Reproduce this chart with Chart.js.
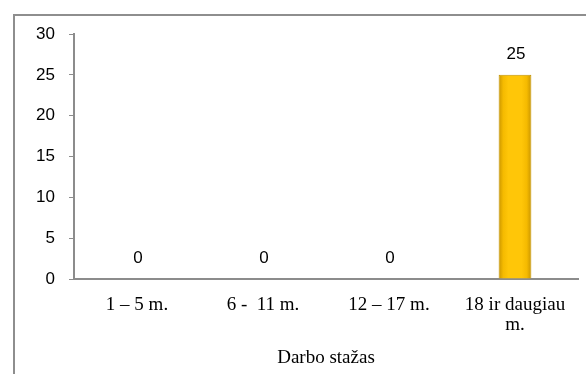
<!DOCTYPE html>
<html>
<head>
<meta charset="utf-8">
<script src="https://cdn.jsdelivr.net/npm/chart.js@4/dist/chart.umd.min.js"></script>
<style>
html,body{margin:0;padding:0;background:#fff;}
#wrap{position:relative;width:586px;height:374px;overflow:hidden;}
#frame{position:absolute;left:13px;top:14px;width:600px;height:400px;border:2px solid #8e8e8e;box-sizing:border-box;}
canvas{position:absolute;left:0;top:0;}
</style>
</head>
<body>
<div id="wrap">
<div id="frame"></div>
<canvas id="c" width="586" height="374"></canvas>
</div>
<script>
const categories = ["1 – 5 m.", "6 -  11 m.", "12 – 17 m.", ["18 ir daugiau", "m."]];
const values = [0, 0, 0, 25];
const yTicks = [0, 5, 10, 15, 20, 25, 30];
const axisTitle = "Darbo stažas";

const BAR_PCT = 0.26;

const valueLabels = {
  id: 'valueLabels',
  afterDatasetsDraw(chart) {
    const ctx = chart.ctx;
    const meta = chart.getDatasetMeta(0);
    ctx.save();
    ctx.font = '17px "Liberation Sans Narrow", "Liberation Sans", sans-serif';
    ctx.fillStyle = '#000';
    ctx.textAlign = 'center';
    ctx.textBaseline = 'alphabetic';
    meta.data.forEach((bar, i) => {
      const v = chart.data.datasets[0].data[i];
      ctx.fillText(String(v), bar.x + 1, bar.y - 16);
    });
    ctx.restore();
  }
};

function barFill(context) {
  const chart = context.chart;
  const xs = chart.scales && chart.scales.x;
  if (!chart.chartArea || !xs || context.dataIndex === undefined) return '#FFC000';
  const cx = xs.getPixelForValue(context.dataIndex);
  const w = (xs.width / categories.length) * BAR_PCT;
  const g = chart.ctx.createLinearGradient(cx - w / 2, 0, cx + w / 2, 0);
  g.addColorStop(0, '#C99500');
  g.addColorStop(0.14, '#F5BA00');
  g.addColorStop(0.3, '#FFC608');
  g.addColorStop(0.7, '#FFC608');
  g.addColorStop(0.86, '#F5BA00');
  g.addColorStop(1, '#C99500');
  return g;
}

const ctx = document.getElementById('c').getContext('2d');
new Chart(ctx, {
  type: 'bar',
  data: {
    labels: categories,
    datasets: [{
      data: values,
      backgroundColor: barFill,
      borderColor: '#C29200',
      borderWidth: 1,
      categoryPercentage: 1,
      barPercentage: BAR_PCT
    }]
  },
  options: {
    responsive: false,
    animation: false,
    devicePixelRatio: 1,
    layout: { padding: { left: 0, right: 8, top: 34, bottom: 0 } },
    plugins: { legend: { display: false }, tooltip: { enabled: false } },
    scales: {
      x: {
        grid: { display: false },
        border: { display: true, color: '#8c8c8c', width: 2 },
        ticks: {
          color: '#000',
          padding: 8,
          maxRotation: 0,
          autoSkip: false,
          font: { family: '"Liberation Serif", serif', size: 19, lineHeight: 1.05 }
        },
        title: {
          display: true,
          text: axisTitle,
          color: '#000',
          font: { family: '"Liberation Serif", serif', size: 19 },
          padding: { top: 0, bottom: 5 }
        },
        afterFit(axis) { axis.height = 95; }
      },
      y: {
        min: 0, max: 30,
        afterBuildTicks(axis) { axis.ticks = yTicks.map(v => ({ value: v })); },
        grid: { display: true, drawOnChartArea: false, drawTicks: true, tickLength: 5, color: '#8c8c8c', lineWidth: 1 },
        border: { display: true, color: '#8c8c8c', width: 2 },
        ticks: {
          color: '#000',
          padding: 14,
          font: { family: '"Liberation Sans Narrow", "Liberation Sans", sans-serif', size: 17 }
        },
        afterFit(axis) { axis.width = 74; }
      }
    }
  },
  plugins: [valueLabels]
});
</script>
</body>
</html>
